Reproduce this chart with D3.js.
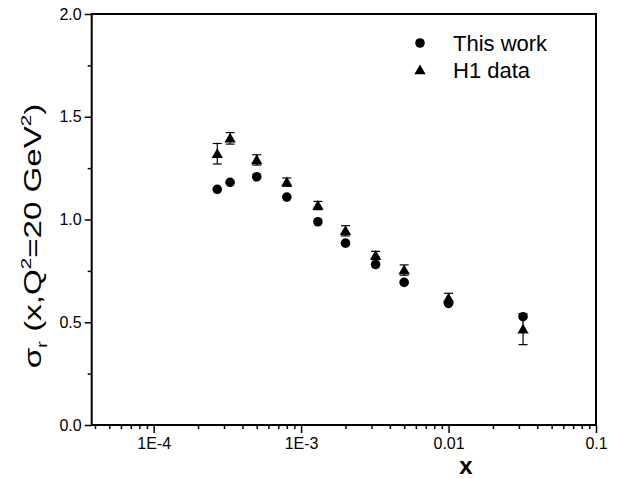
<!DOCTYPE html>
<html>
<head>
<meta charset="utf-8">
<script src="https://cdn.jsdelivr.net/npm/d3@7"></script>
<style>
  body { margin: 0; background: #fff; }
  text { font-family: "Liberation Sans", Arial, sans-serif; }
</style>
</head>
<body>
<div id="chart"></div>
<script>
// values
var workX = [2.7e-4, 3.3e-4, 5e-4, 8e-4, 1.3e-3, 2e-3, 3.2e-3, 5e-3, 0.01, 0.032];
var workY = [1.147, 1.181, 1.208, 1.109, 0.989, 0.885, 0.781, 0.694, 0.592, 0.527];

var h1X = [2.7e-4, 3.3e-4, 5e-4, 8e-4, 1.3e-3, 2e-3, 3.2e-3, 5e-3, 0.01, 0.032];
var h1Y = [1.32, 1.395, 1.29, 1.182, 1.068, 0.945, 0.825, 0.754, 0.617, 0.466];
var h1Err = [0.05, 0.028, 0.025, 0.02, 0.02, 0.025, 0.02, 0.025, 0.024, 0.075];

var xMajor = [1e-4, 1e-3, 1e-2, 1e-1];
var xMajorLabels = ["1E-4", "1E-3", "0.01", "0.1"];
var yMajor = [0, 0.5, 1.0, 1.5, 2.0];
var yMinor = [0.25, 0.75, 1.25, 1.75];

var W = 621, H = 479;
var mLeft = 91.7, mRight = 596, mTop = 14, mBottom = 425;

var svg = d3.select("#chart").append("svg")
    .attr("width", W)
    .attr("height", H);

var x = d3.scaleLog().domain([3.8e-5, 0.1]).range([mLeft, mRight]);
var y = d3.scaleLinear().domain([0, 2]).range([mBottom, mTop]);

// minor ticks for log axis: 2..9 in each decade
var xMinor = [];
[1e-5, 1e-4, 1e-3, 1e-2].forEach(function(dec) {
  for (var k = 2; k <= 9; k++) {
    var v = k * dec;
    if (v >= x.domain()[0] && v <= x.domain()[1]) xMinor.push(v);
  }
});

var xAxis = d3.axisBottom(x).tickValues(xMajor)
    .tickFormat(function(d, i) { return xMajorLabels[i]; })
    .tickSize(8).tickPadding(5);
var xAxisMinor = d3.axisBottom(x).tickValues(xMinor).tickFormat("").tickSize(4);

var yAxis = d3.axisLeft(y).tickValues(yMajor)
    .tickFormat(d3.format(".1f"))
    .tickSize(7).tickPadding(3);
var yAxisMinor = d3.axisLeft(y).tickValues(yMinor).tickFormat("").tickSize(4);

function styleAxis(g) {
  g.select(".domain").remove();
  g.attr("font-size", null).attr("font-family", null);
  g.selectAll(".tick line").attr("stroke", "#000").attr("stroke-width", 1.5);
  g.selectAll(".tick text").attr("fill", "#000").style("font-size", "16px");
}

svg.append("g").attr("transform", "translate(0," + mBottom + ")").call(xAxisMinor).call(styleAxis);
svg.append("g").attr("transform", "translate(0," + mBottom + ")").call(xAxis).call(styleAxis);
svg.append("g").attr("transform", "translate(" + mLeft + ",0)").call(yAxisMinor).call(styleAxis);
svg.append("g").attr("transform", "translate(" + mLeft + ",0)").call(yAxis).call(styleAxis);

// frame
svg.append("rect")
    .attr("x", mLeft).attr("y", mTop)
    .attr("width", mRight - mLeft).attr("height", mBottom - mTop)
    .attr("fill", "none").attr("stroke", "#000").attr("stroke-width", 2);

// error bars for H1
var h1 = h1X.map(function(v, i) { return {x: v, y: h1Y[i], e: h1Err[i]}; });
var eb = svg.append("g").attr("stroke", "#000").attr("stroke-width", 1.2);
h1.forEach(function(d) {
  var cx = x(d.x), y1 = y(d.y + d.e), y2 = y(d.y - d.e);
  eb.append("line").attr("x1", cx).attr("x2", cx).attr("y1", y1).attr("y2", y2);
  eb.append("line").attr("x1", cx - 4.5).attr("x2", cx + 4.5).attr("y1", y1).attr("y2", y1);
  eb.append("line").attr("x1", cx - 4.5).attr("x2", cx + 4.5).attr("y1", y2).attr("y2", y2);
});

var tri = d3.symbol().type(d3.symbolTriangle).size(56);

svg.append("g").selectAll("path")
    .data(h1)
    .enter().append("path")
    .attr("d", tri)
    .attr("transform", function(d) { return "translate(" + x(d.x) + "," + (y(d.y) + 1) + ")"; })
    .attr("fill", "#000");

var work = workX.map(function(v, i) { return {x: v, y: workY[i]}; });
svg.append("g").selectAll("circle")
    .data(work)
    .enter().append("circle")
    .attr("cx", function(d) { return x(d.x); })
    .attr("cy", function(d) { return y(d.y); })
    .attr("r", 4.8)
    .attr("fill", "#000");

// legend
var legend = svg.append("g");
legend.append("circle").attr("cx", 420).attr("cy", 43).attr("r", 4.8).attr("fill", "#000");
legend.append("text").attr("x", 453).attr("y", 51).style("font-size", "22px").text("This work");
legend.append("path").attr("d", tri).attr("transform", "translate(420,71)").attr("fill", "#000");
legend.append("text").attr("x", 453).attr("y", 78).style("font-size", "22px").text("H1 data");

// axis titles
svg.append("text")
    .attr("x", 466).attr("y", 474)
    .attr("text-anchor", "middle")
    .style("font-size", "24px")
    .style("font-weight", "bold")
    .text("x");

// y title is drawn stretched along its length like the original
var yt = svg.append("text")
    .attr("transform", "translate(41,236) rotate(-90) scale(1.38,1)")
    .attr("text-anchor", "middle")
    .style("font-size", "24px");
yt.append("tspan").text("\u03c3");
yt.append("tspan").attr("dy", 6).style("font-size", "15px").text("r");
yt.append("tspan").attr("dy", -6).text(" (x,Q");
yt.append("tspan").attr("dy", -10).style("font-size", "15px").text("2");
yt.append("tspan").attr("dy", 10).text("=20 GeV");
yt.append("tspan").attr("dy", -10).style("font-size", "15px").text("2");
yt.append("tspan").attr("dy", 10).text(")");
</script>
</body>
</html>
